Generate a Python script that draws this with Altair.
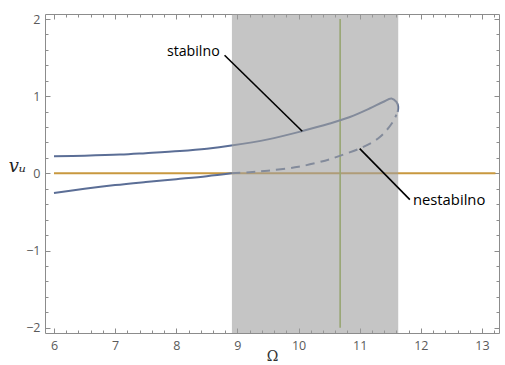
import altair as alt
import pandas as pd

# ---------------- data ----------------
x_domain = [5.853, 13.278]
y_domain = [-2.069, 2.065]

# stable upper branch (ends at the fold)
upper_x = [6.0, 6.5, 7.08, 7.5, 8.06, 8.5, 8.9, 9.5, 10.05, 10.51, 10.84, 11.16, 11.38, 11.52, 11.60, 11.63, 11.62]
upper_y = [0.22, 0.228, 0.243, 0.262, 0.29, 0.32, 0.36, 0.44, 0.545, 0.645, 0.73, 0.84, 0.925, 0.97, 0.925, 0.86, 0.795]

# stable lower branch
lower_x = [6.0, 6.5, 7.0, 7.5, 8.0, 8.5, 8.9]
lower_y = [-0.255, -0.20, -0.152, -0.112, -0.075, -0.037, 0.0]

# unstable (dashed) branch
unst_x = [8.9, 9.2, 9.5, 10.0, 10.5, 10.65, 11.05, 11.33, 11.54, 11.60]
unst_y = [0.0, 0.015, 0.035, 0.085, 0.18, 0.22, 0.34, 0.47, 0.665, 0.76]

# trivial solution v_u = 0
zero_x = [6.0, 13.22]
zero_y = [0.0, 0.0]

# shaded band and vertical marker
band_x = [8.91]
band_x2 = [11.63]
vline_x = [10.68]
vline_y = [-2.0]
vline_y2 = [2.0]

# annotations
labels = ["stabilno", "nestabilno"]
label_x = [8.71, 11.87]
label_y = [1.57, -0.36]
label_align = ["right", "left"]
lead_x = [8.79, 11.0]
lead_y = [1.53, 0.32]
lead_x2 = [10.06, 11.82]
lead_y2 = [0.545, -0.34]

x_major = [6, 7, 8, 9, 10, 11, 12, 13]
y_major = [-2, -1, 0, 1, 2]
x_minor = [v / 10 for v in range(60, 133, 2) if v % 10 != 0]
y_minor = [v / 10 for v in range(-20, 21, 2) if v % 10 != 0]

# ---------------- styles ----------------
W, H = 454, 319
FRAME = "#8c8c8c"
CURVE = "#5b6e96"
ORANGE = "#c8983f"
GREEN = "#8fb032"

xs = alt.Scale(domain=x_domain, nice=False, zero=False)
ys = alt.Scale(domain=y_domain, nice=False, zero=False)

def curve_df(xv, yv, name):
    return pd.DataFrame({"x": xv, "y": yv, "i": list(range(len(xv))), "b": name})

solid_df = pd.concat([curve_df(upper_x, upper_y, "upper"), curve_df(lower_x, lower_y, "lower")])
dash_df = curve_df(unst_x, unst_y, "unstable")

X = lambda f="x": alt.X(f"{f}:Q", scale=xs, axis=None)
Y = lambda f="y": alt.Y(f"{f}:Q", scale=ys, axis=None)

zero_line = alt.Chart(pd.DataFrame({"x": zero_x, "y": zero_y})).mark_line(
    color=ORANGE, strokeWidth=2).encode(x=X(), y=Y())

green_line = alt.Chart(pd.DataFrame({"x": vline_x, "y": vline_y, "y2": vline_y2})).mark_rule(
    color=GREEN, strokeWidth=1.6).encode(x=X(), y=Y(), y2="y2:Q")

solid = alt.Chart(solid_df).mark_line(
    color=CURVE, strokeWidth=2, interpolate="catmull-rom").encode(
    x=X(), y=Y(), detail="b:N", order="i:Q")

dashed = alt.Chart(dash_df).mark_line(
    color=CURVE, strokeWidth=2, interpolate="catmull-rom", strokeDash=[9, 6]).encode(
    x=X(), y=Y(), order="i:Q")

band = alt.Chart(pd.DataFrame({"x": band_x, "x2": band_x2})).mark_rect(
    color="#9f9f9f", opacity=0.6).encode(x=X(), x2="x2:Q")

leaders = alt.Chart(pd.DataFrame({"x": lead_x, "y": lead_y, "x2": lead_x2, "y2": lead_y2})).mark_rule(
    color="black", strokeWidth=1.6).encode(x=X(), y=Y(), x2="x2:Q", y2="y2:Q")

lab_df = pd.DataFrame({"t": labels, "x": label_x, "y": label_y, "a": label_align})
txt_r = alt.Chart(lab_df[lab_df.a == "right"]).mark_text(
    align="right", baseline="middle", font="Open Sans", fontSize=14.2, color="black").encode(
    x=X(), y=Y(), text="t:N")
txt_l = alt.Chart(lab_df[lab_df.a == "left"]).mark_text(
    align="left", baseline="middle", font="Open Sans", fontSize=14.8, color="black").encode(
    x=X(), y=Y(), text="t:N")

dom_df = pd.DataFrame({"x": x_domain, "y": y_domain})

def axis_layer(x_axis, y_axis):
    return alt.Chart(dom_df).mark_point(opacity=0).encode(
        x=alt.X("x:Q", scale=xs, axis=x_axis),
        y=alt.Y("y:Q", scale=ys, axis=y_axis))

common = dict(domain=False, grid=False, tickColor=FRAME, tickWidth=1, title=None)

ax_main = axis_layer(
    alt.Axis(orient="bottom", values=x_major, tickSize=5, offset=-5, labels=True,
             labelPadding=6, labelFont="Open Sans", labelFontSize=12.5, labelColor="#5a5a5a",
             labelFlush=False, format="d", domain=False, grid=False, tickColor=FRAME,
             tickWidth=1, title="Ω", titleFont="DejaVu Serif", titleFontSize=14,
             titleFontWeight="normal", titleColor="#333333", titleBaseline="middle",
             titleY=28),
    alt.Axis(orient="left", values=y_major, tickSize=5, offset=-5, labels=True,
             labelPadding=5, labelFont="Open Sans", labelFontSize=12.5, labelColor="#5a5a5a",
             labelFlush=False, format="d", domain=False, grid=False, tickColor=FRAME,
             tickWidth=1, title="vᵤ", titleFont="DejaVu Serif", titleFontStyle="italic",
             titleFontSize=18, titleFontWeight="normal", titleColor="#222222",
             titleAngle=0, titleAlign="center", titleBaseline="alphabetic",
             titleX=-33, titleY=157),
)
ax_minor = axis_layer(
    alt.Axis(orient="bottom", values=x_minor, tickSize=3, offset=-3, labels=False, **common),
    alt.Axis(orient="left", values=y_minor, tickSize=3, offset=-3, labels=False, **common),
)
ax_top = axis_layer(
    alt.Axis(orient="top", values=x_major, tickSize=5, offset=-5, labels=False, **common),
    alt.Axis(orient="right", values=y_major, tickSize=5, offset=-5, labels=False, **common),
)
ax_top_minor = axis_layer(
    alt.Axis(orient="top", values=x_minor, tickSize=3, offset=-3, labels=False, **common),
    alt.Axis(orient="right", values=y_minor, tickSize=3, offset=-3, labels=False, **common),
)

chart = alt.layer(
    zero_line, green_line, solid, dashed, band, leaders, txt_r, txt_l,
    ax_main, ax_minor, ax_top, ax_top_minor
).resolve_scale(x="independent", y="independent").properties(
    width=W, height=H,
    autosize=alt.AutoSizeParams(type="none"),
    padding={"left": 45, "top": 14, "right": 6, "bottom": 32},
    background="white",
).configure_view(stroke=FRAME, strokeWidth=1)

chart.save("out.html", embed_options={"renderer": "svg", "actions": False})
